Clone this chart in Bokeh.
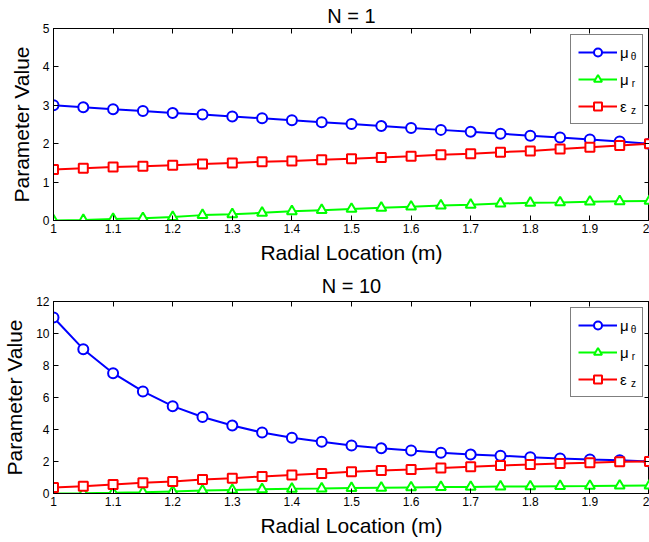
from bokeh.plotting import figure
from bokeh.layouts import column
from bokeh.models import FixedTicker, LinearAxis, Legend, LegendItem, Label, Range1d
from bokeh.embed import file_html
from bokeh.resources import INLINE

# ---- data ----
r = [1.00, 1.05, 1.10, 1.15, 1.20, 1.25, 1.30, 1.35, 1.40, 1.45, 1.50,
     1.55, 1.60, 1.65, 1.70, 1.75, 1.80, 1.85, 1.90, 1.95, 2.00]

mu_theta_n1 = [3.00, 2.95, 2.90, 2.85, 2.80, 2.76, 2.71, 2.66, 2.61, 2.56, 2.51,
               2.46, 2.41, 2.36, 2.31, 2.26, 2.21, 2.16, 2.11, 2.06, 2.00]
mu_r_n1 = [0.00, 0.01, 0.04, 0.06, 0.09, 0.14, 0.16, 0.20, 0.24, 0.27, 0.30,
           0.33, 0.36, 0.39, 0.41, 0.44, 0.46, 0.47, 0.49, 0.50, 0.51]
eps_z_n1 = [1.33, 1.36, 1.39, 1.41, 1.44, 1.47, 1.50, 1.53, 1.55, 1.58, 1.61,
            1.64, 1.67, 1.71, 1.74, 1.78, 1.81, 1.86, 1.91, 1.95, 2.00]

mu_theta_n10 = [11.00, 9.02, 7.52, 6.38, 5.46, 4.78, 4.25, 3.81, 3.48, 3.23, 3.00,
                2.83, 2.69, 2.55, 2.44, 2.36, 2.27, 2.19, 2.13, 2.08, 2.00]
mu_r_n10 = [0.00, 0.01, 0.04, 0.08, 0.13, 0.18, 0.22, 0.26, 0.29, 0.31, 0.34,
            0.36, 0.38, 0.40, 0.41, 0.43, 0.44, 0.46, 0.47, 0.49, 0.50]
eps_z_n10 = [0.38, 0.46, 0.56, 0.67, 0.75, 0.87, 0.96, 1.06, 1.15, 1.25, 1.36,
             1.44, 1.50, 1.59, 1.67, 1.75, 1.81, 1.88, 1.92, 1.98, 2.00]

x_ticks = [1.0, 1.1, 1.2, 1.3, 1.4, 1.5, 1.6, 1.7, 1.8, 1.9, 2.0]
x_tick_labels = ["1", "1.1", "1.2", "1.3", "1.4", "1.5", "1.6", "1.7", "1.8", "1.9", "2"]
y_ticks_n1 = [0, 1, 2, 3, 4, 5]
y_ticks_n10 = [0, 2, 4, 6, 8, 10, 12]

titles = ["N = 1", "N = 10"]
series_names = ["\u03bc", "\u03bc", "\u03b5"]
series_subs = ["\u03b8", "r", "z"]
colors = ["#0000ff", "#00ff00", "#ff0000"]
markers = ["circle", "triangle", "square"]
marker_sizes = [10, 10, 9]

FONT = "Liberation Sans"


def style_axis(ax, ticks, labels=None):
    ax.ticker = FixedTicker(ticks=ticks)
    if labels is not None:
        ax.major_label_overrides = {t: l for t, l in zip(ticks, labels)}
    ax.major_tick_in = 5
    ax.major_tick_out = 0
    ax.minor_tick_in = 0
    ax.minor_tick_out = 0
    ax.axis_line_color = "black"
    ax.major_tick_line_color = "black"
    ax.major_label_text_font = FONT
    ax.major_label_text_font_size = "12px"
    ax.major_label_text_color = "black"
    ax.axis_label_text_font = FONT
    ax.axis_label_text_font_size = "21px"
    ax.axis_label_text_font_style = "normal"
    ax.axis_label_text_color = "black"


def make_panel(title, series, y_ticks, height, border_top, border_bottom, title_standoff):
    p = figure(width=649, height=height,
               x_range=Range1d(x_ticks[0], x_ticks[-1]),
               y_range=Range1d(y_ticks[0], y_ticks[-1]),
               output_backend="svg", toolbar_location=None,
               min_border_left=48, min_border_right=0,
               min_border_top=border_top, min_border_bottom=border_bottom,
               title=title)
    p.title.align = "center"
    p.title.text_font = FONT
    p.title.text_font_size = "20px"
    p.title.text_font_style = "normal"
    p.title.text_color = "black"
    p.title.standoff = title_standoff
    p.xgrid.visible = False
    p.ygrid.visible = False
    p.outline_line_color = "black"
    p.background_fill_color = "white"

    style_axis(p.xaxis[0], x_ticks, x_tick_labels)
    p.xaxis.axis_label = "Radial Location (m)"
    p.xaxis.axis_label_standoff = 5
    p.xaxis.major_label_standoff = 3
    style_axis(p.yaxis[0], y_ticks)
    p.yaxis.axis_label = "Parameter Value"
    p.yaxis.axis_label_standoff = 7
    p.yaxis.major_label_standoff = 4

    # mirrored tick marks (box on)
    top_ax = LinearAxis()
    style_axis(top_ax, x_ticks, ["" for _ in x_ticks])
    top_ax.major_label_standoff = 0
    top_ax.major_label_text_font_size = "0px"
    p.add_layout(top_ax, "above")
    right_ax = LinearAxis()
    style_axis(right_ax, y_ticks, ["" for _ in y_ticks])
    right_ax.major_label_standoff = 0
    right_ax.major_label_text_font_size = "0px"
    p.add_layout(right_ax, "right")

    items = []
    for ys, name, col, mk, ms in zip(series, series_names, colors, markers, marker_sizes):
        lr = p.line(r, ys, line_color=col, line_width=2)
        sr = p.scatter(r, ys, marker=mk, size=ms, line_color=col, line_width=2,
                       fill_color="white")
        items.append(LegendItem(label=name, renderers=[lr, sr]))

    legend = Legend(items=items, location="top_right", margin=6, padding=7,
                    spacing=7, glyph_width=39, glyph_height=20,
                    label_standoff=3, label_width=15, label_height=20,
                    label_text_font=FONT, label_text_font_size="15px",
                    label_text_color="black",
                    border_line_color="black", border_line_width=1,
                    background_fill_alpha=0)
    p.add_layout(legend)

    for i, sub in enumerate(series_subs):
        p.add_layout(Label(x=x_ticks[-1], y=y_ticks[-1], x_offset=-16,
                           y_offset=-(28 + 27 * i), text=sub,
                           text_font=FONT, text_font_size="10px",
                           text_align="center", text_baseline="middle",
                           text_color="black"))
    return p


p1 = make_panel(titles[0], [mu_theta_n1, mu_r_n1, eps_z_n1], y_ticks_n1, 266, 28, 46, 4)
p2 = make_panel(titles[1], [mu_theta_n10, mu_r_n10, eps_z_n10], y_ticks_n10, 276, 35, 49, 10)

layout = column(p1, p2, spacing=0)
open("out.html", "w").write(file_html(layout, INLINE))
